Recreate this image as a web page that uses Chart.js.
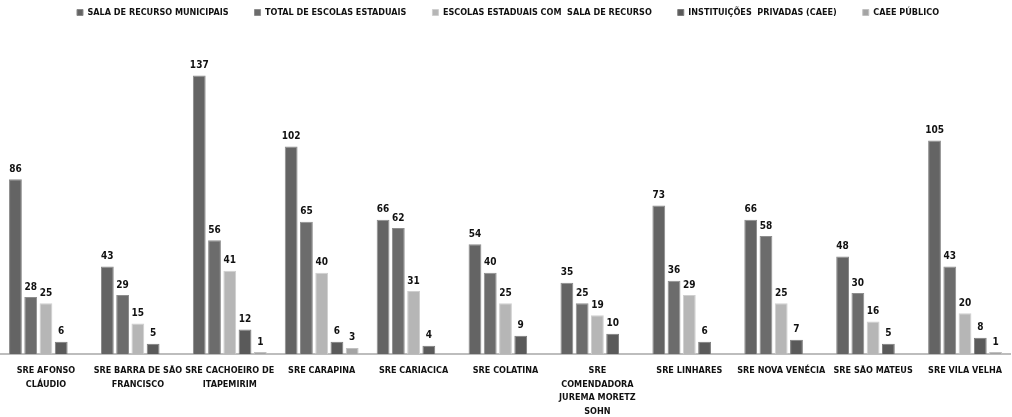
<!DOCTYPE html>
<html>
<head>
<meta charset="utf-8">
<script src="https://cdn.jsdelivr.net/npm/chart.js@4"></script>
<style>
  html, body { margin: 0; padding: 0; background: #fff; }
  #wrap { width: 1012px; height: 417px; }
</style>
</head>
<body>
<div id="wrap"><canvas id="chart"></canvas></div>
<script>
// categories (SRE regions)
const regions = [
    ['SRE AFONSO', 'CLÁUDIO'],
    ['SRE BARRA DE SÃO', 'FRANCISCO'],
    ['SRE CACHOEIRO DE', 'ITAPEMIRIM'],
    'SRE CARAPINA',
    'SRE CARIACICA',
    'SRE COLATINA',
    ['SRE', 'COMENDADORA', 'JUREMA MORETZ', 'SOHN'],
    'SRE LINHARES',
    'SRE NOVA VENÉCIA',
    'SRE SÃO MATEUS',
    'SRE VILA VELHA'
];

const salaMunicipais = [86, 43, 137, 102, 66, 54, 35, 73, 66, 48, 105];
const totalEstaduais = [28, 29, 56, 65, 62, 40, 25, 36, 58, 30, 43];
const estaduaisComSala = [25, 15, 41, 40, 31, 25, 19, 29, 25, 16, 20];
const privadasCaee = [6, 5, 12, 6, 4, 9, 10, 6, 7, 5, 8];
const caeePublico = [null, null, 1, 3, null, null, null, null, null, null, 1];

const seriesNames = [
    'SALA DE RECURSO MUNICIPAIS',
    'TOTAL DE ESCOLAS ESTADUAIS',
    'ESCOLAS ESTADUAIS COM  SALA DE RECURSO',
    'INSTITUIÇÕES  PRIVADAS (CAEE)',
    'CAEE PÚBLICO'
];
const seriesData = [salaMunicipais, totalEstaduais, estaduaisComSala, privadasCaee, caeePublico];
const fills = ['#646464', '#6c6c6c', '#b6b6b6', '#5a5a5a', '#a4a4a4'];
const edges = ['#8a8a8a', '#8e8e8e', '#cfcfcf', '#7c7c7c', '#c0c0c0'];

const FONT = '"Liberation Sans Narrow", "DejaVu Sans Condensed", Arial, sans-serif';

// value labels above each bar
const valueLabels = {
    id: 'valueLabels',
    afterDatasetsDraw(chart) {
        const ctx = chart.ctx;
        ctx.save();
        ctx.font = 'bold 10px ' + FONT;
        ctx.fillStyle = '#111';
        ctx.textAlign = 'center';
        ctx.textBaseline = 'bottom';
        chart.data.datasets.forEach((ds, i) => {
            chart.getDatasetMeta(i).data.forEach((bar, j) => {
                if (ds.data[j] == null) return;
                ctx.fillText(ds.data[j], bar.x, bar.y - 5);
            });
        });
        ctx.restore();
    }
};

const legendGap = {
    id: 'legendGap',
    beforeInit(chart) {
        const fit = chart.legend.fit;
        chart.legend.fit = function () {
            fit.bind(chart.legend)();
            this.height += 22;
        };
    }
};

new Chart(document.getElementById('chart'), {
    type: 'bar',
    data: {
        labels: regions,
        datasets: seriesData.map((d, i) => ({
            label: seriesNames[i],
            data: d,
            backgroundColor: fills[i],
            borderColor: edges[i],
            borderWidth: 1,
            categoryPercentage: 0.83,
            barPercentage: 0.84
        }))
    },
    options: {
        responsive: true,
        maintainAspectRatio: false,
        animation: false,
        layout: { padding: { left: 0, right: -4, top: -18, bottom: -11 } },
        plugins: {
            legend: {
                position: 'top',
                labels: {
                    boxWidth: 6,
                    boxHeight: 6,
                    padding: 26,
                    color: '#111',
                    font: { family: FONT, size: 9, weight: 'bold' }
                }
            },
            tooltip: { enabled: false }
        },
        scales: {
            x: {
                grid: { display: false, drawTicks: false },
                border: { color: '#bdbdbd', width: 2 },
                ticks: {
                    color: '#111',
                    padding: 10,
                    maxRotation: 0,
                    autoSkip: false,
                    font: { family: FONT, size: 9, weight: 'bold', lineHeight: 1.5 }
                }
            },
            y: {
                display: false,
                min: 0,
                max: 150
            }
        }
    },
    plugins: [valueLabels, legendGap]
});
</script>
</body>
</html>
